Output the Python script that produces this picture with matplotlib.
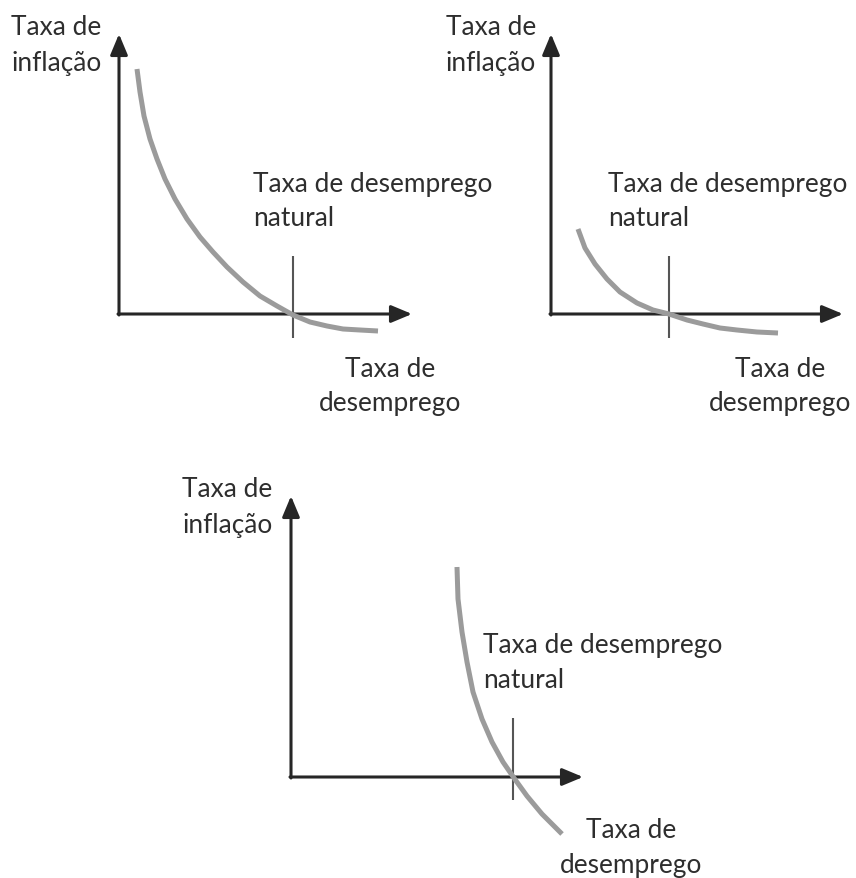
import matplotlib
matplotlib.use("Agg")
import matplotlib.pyplot as plt

W, H, DPI = 856, 879, 100

# ---------------- data (panel-relative units, origin at axes corner) -------------
panel1_curve_x = [18, 21, 25, 31, 38, 46, 56, 68, 81, 94, 108, 124, 141, 158,
                  174, 191, 208, 224, 241, 259]
panel1_curve_y = [245, 222, 198, 175, 155, 135, 115, 95, 77, 62, 47, 32, 18, 8,
                  -1, -8, -12, -15, -16, -17]
panel2_curve_x = [27, 34, 44, 56, 69, 86, 102, 118, 136, 152, 169, 186, 206, 227]
panel2_curve_y = [85, 66, 50, 35, 22, 11, 4, 0, -6, -10, -14, -16, -18, -19]
panel3_curve_x = [166, 167, 171, 176, 182, 191, 201, 212, 223, 236, 251, 271]
panel3_curve_y = [210, 178, 145, 115, 85, 58, 35, 15, -1, -19, -37, -57]
natural_rates = [174, 118, 222]
natural_marker_range = [(-24, 58), (-24, 58), (-23, 59)]

y_label = ["Taxa de", "inflação"]
x_label = ["Taxa de", "desemprego"]
nat_label = ["Taxa de desemprego", "natural"]

# ---------------- layout (pixels) ----------------
origins = [(119, 315), (551, 315), (291, 778)]
axis_len = [(293, 280), (292, 280), (292, 281)]
ylab_pos = [(56.5, 35, 70.5), (491, 35, 70.5), (227.5, 497, 533)]
natlab_pos = [(253, 192, 226), (608, 192, 226), (483, 653, 688)]
xlab_pos = [(390, 377, 411), (780, 377, 411), (631, 838, 873)]

curves = [(panel1_curve_x, panel1_curve_y), (panel2_curve_x, panel2_curve_y),
          (panel3_curve_x, panel3_curve_y)]

FONT = ["Lato", "DejaVu Sans"]
TXT = "#2e2e2e"
AX = "#262626"
CURVE = "#9b9b9b"
VLINE = "#555555"

fig = plt.figure(figsize=(W / DPI, H / DPI), dpi=DPI)
fig.patch.set_facecolor("white")

# fit font size so that "Taxa de desemprego" is ~239 px wide
fig.canvas.draw()
r = fig.canvas.get_renderer()
probe = fig.text(0, 0, nat_label[0], fontsize=20, family=FONT)
wpx = probe.get_window_extent(r).width
FS = 20 * 239 / wpx
probe.remove()


def ftext(x, y, s, ha):
    fig.text(x / W, 1 - y / H, s, ha=ha, va="baseline", fontsize=FS,
             family=FONT, color=TXT)


for i in range(3):
    ox, oy = origins[i]
    ax = fig.add_axes([0, 0, 1, 1])
    ax.set_xlim(-ox, W - ox)
    ax.set_ylim(oy - H, oy)
    ax.axis("off")
    ax.patch.set_alpha(0)

    xl, yl = axis_len[i]
    arrow_style = "-|>,head_length=0.55,head_width=0.23"
    ax.annotate("", xy=(xl, 0), xytext=(-1, 0),
                arrowprops=dict(arrowstyle=arrow_style, lw=2.2, color=AX,
                                mutation_scale=23, shrinkA=0, shrinkB=0))
    ax.annotate("", xy=(0, yl), xytext=(0, -1),
                arrowprops=dict(arrowstyle=arrow_style, lw=2.2, color=AX,
                                mutation_scale=23, shrinkA=0, shrinkB=0))

    lo, hi = natural_marker_range[i]
    ax.plot([natural_rates[i], natural_rates[i]], [lo, hi], color=VLINE,
            lw=1.5, solid_capstyle="butt", zorder=3)

    cx, cy = curves[i]
    ax.plot(cx, cy, color=CURVE, lw=3.6, solid_capstyle="butt",
            solid_joinstyle="round", zorder=4)

    x0, b1, b2 = ylab_pos[i]
    ftext(x0, b1, y_label[0], "center")
    ftext(x0, b2, y_label[1], "center")
    x0, b1, b2 = natlab_pos[i]
    ftext(x0, b1, nat_label[0], "left")
    ftext(x0, b2, nat_label[1], "left")
    x0, b1, b2 = xlab_pos[i]
    ftext(x0, b1, x_label[0], "center")
    ftext(x0, b2, x_label[1], "center")

fig.savefig("out.png", dpi=DPI, facecolor="white")
